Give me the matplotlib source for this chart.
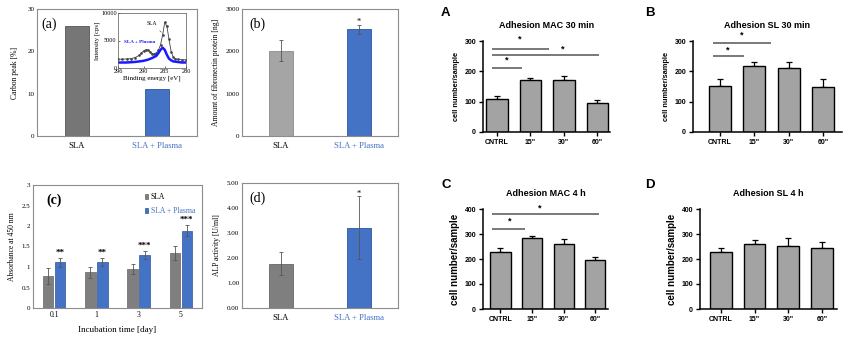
import matplotlib
matplotlib.use("Agg")
import matplotlib.pyplot as plt
import numpy as np

# ---------------- data ----------------
groups2 = ["SLA", "SLA + Plasma"]
carbon_peak = [26, 11]
fibronectin = [2010, 2520]
fibronectin_err = [250, 100]
alp = [1.78, 3.22]
alp_err = [0.45, 1.25]

days = ["0.1", "1", "3", "5"]
abs_sla = [0.78, 0.87, 0.945, 1.34]
abs_sla_err = [0.2, 0.13, 0.12, 0.18]
abs_pl = [1.11, 1.12, 1.29, 1.89]
abs_pl_err = [0.12, 0.1, 0.1, 0.13]
abs_stars = ["**", "**", "***", "***"]

be_sla = [296, 295, 294, 293, 292, 291, 290.5, 290, 289.5, 289, 288.5, 288, 287.5, 287,
          286.5, 286, 285.5, 285, 284.5, 284, 283.5, 283, 282.5, 282, 281, 280]
int_sla = [1600, 1600, 1650, 1700, 1900, 2300, 2700, 3100, 3300, 3300, 3000, 2600, 2500, 2700,
           3200, 4200, 6000, 8300, 7600, 5200, 3000, 2000, 1700, 1600, 1500, 1500]
be_pl = [296, 295, 294, 293, 292, 291, 290, 289, 288, 287, 286.5, 286, 285.5, 285, 284.5,
         284, 283.5, 283, 282, 281, 280]
int_pl = [1000, 1000, 1000, 1050, 1100, 1200, 1300, 1500, 1800, 2200, 2700, 3300, 3700, 3300,
          2400, 1700, 1400, 1200, 1100, 1000, 1000]

cats = ["CNTRL", "15\"", "30\"", "60\""]
mac30 = [109, 170, 172, 97]
mac30_err = [10, 7, 12, 7]
sl30 = [153, 219, 212, 150]
sl30_err = [21, 13, 18, 25]
mac4 = [230, 284, 260, 198]
mac4_err = [16, 10, 20, 12]
sl4 = [230, 261, 253, 244]
sl4_err = [14, 16, 31, 24]

# significance: (x_start, x_end, y) and stars (x, y)
mac30_lines = [(-0.15, 0.75, 211), (-0.15, 1.55, 274), (-0.15, 3.05, 254)]
mac30_stars = [(0.3, 237), (0.69, 307), (1.97, 274)]
sl30_lines = [(-0.2, 0.7, 251), (-0.2, 1.48, 294)]
sl30_stars = [(0.23, 270), (0.64, 320)]
mac4_lines = [(-0.25, 0.77, 321), (-0.25, 3.1, 381)]
mac4_stars = [(0.28, 352), (1.23, 402)]

W, H = 850, 342
fig = plt.figure(figsize=(8.5, 3.42), dpi=100)


def add_ax(x, y, w, h):
    return fig.add_axes([x / W, 1 - (y + h) / H, w / W, h / H])


SERIF = "Liberation Serif"
SANS = "Liberation Sans"
BLUE = "#4472C4"
BLUE_E = "#2F5597"
FRAME = "#8c8c8c"


def excel_style(ax):
    for s in ax.spines.values():
        s.set_color(FRAME)
        s.set_linewidth(0.8)
    ax.tick_params(axis="both", length=0, labelsize=5, pad=2)
    for t in ax.get_yticklabels():
        t.set_fontfamily(SERIF)


def two_xlabels(ax):
    ax.set_xticks([0, 1])
    ax.set_xticklabels(groups2, fontfamily=SERIF, fontsize=6.2)
    ax.get_xticklabels()[1].set_color(BLUE)
    ax.tick_params(axis="x", pad=4)


# ---- (a)
ax = add_ax(37, 9, 160, 127)
ax.bar([0, 1], carbon_peak, width=0.3, color=["#767676", BLUE],
       edgecolor=["#555555", BLUE_E], linewidth=0.6)
ax.set_xlim(-0.5, 1.5)
ax.set_ylim(0, 30)
ax.set_yticks([0, 10, 20, 30])
excel_style(ax)
two_xlabels(ax)
ax.set_ylabel("Carbon peak [%]", fontfamily=SERIF, fontsize=5.5, labelpad=6)
ax.text(0.03, 0.93, "(a)", transform=ax.transAxes, fontfamily=SERIF, fontsize=10, va="top")

ins = add_ax(118, 13, 68, 55)
ins.plot(be_sla, int_sla, color="#444444", lw=0.6, marker="o", ms=0.9)
ins.plot(be_pl, int_pl, color="#1a1aff", lw=1.8)
ins.set_xlim(296, 280)
ins.set_ylim(0, 10000)
ins.set_xticks([296, 290, 285, 280])
ins.set_yticks([0, 5000, 10000])
for s in ins.spines.values():
    s.set_color("#555555")
    s.set_linewidth(0.5)
ins.tick_params(labelsize=4.5, length=1.5, width=0.4, pad=1, direction="in")
for t in ins.get_xticklabels() + ins.get_yticklabels():
    t.set_fontfamily(SERIF)
ins.set_xlabel("Binding energy [eV]", fontfamily=SERIF, fontsize=5, labelpad=0.5)
ins.set_ylabel("Intensity [cps]", fontfamily=SERIF, fontsize=4.8, labelpad=0.5)
ins.annotate("SLA", xy=(285.8, 6500), xytext=(288.0, 7800), fontfamily=SERIF, fontsize=4,
             ha="center", arrowprops=dict(arrowstyle="-", lw=0.4, color="#333333"))
ins.text(294.6, 4700, "SLA + Plasma", color="#1a1aff", fontfamily=SERIF, fontsize=3.7,
         fontweight="bold", va="center")

# ---- (b)
ax = add_ax(242, 9, 156, 127)
ax.bar([0, 1], fibronectin, width=0.3, color=["#A5A5A5", BLUE],
       edgecolor=["#8a8a8a", BLUE_E], linewidth=0.6)
ax.errorbar([0, 1], fibronectin, yerr=fibronectin_err, fmt="none", ecolor="#555555",
            elinewidth=0.6, capsize=1.5, capthick=0.6)
ax.text(1, fibronectin[1] + fibronectin_err[1] + 30, "*", ha="center", fontsize=6,
        fontfamily=SERIF)
ax.set_xlim(-0.5, 1.5)
ax.set_ylim(0, 3000)
ax.set_yticks([0, 1000, 2000, 3000])
excel_style(ax)
two_xlabels(ax)
ax.set_ylabel("Amount of fibronectin protein [ng]", fontfamily=SERIF, fontsize=5.5, labelpad=4)
ax.text(0.05, 0.93, "(b)", transform=ax.transAxes, fontfamily=SERIF, fontsize=10, va="top")

# ---- (c)
ax = add_ax(33, 185, 169, 123)
x = np.arange(len(days))
bw = 0.25
b1 = ax.bar(x - 0.14, abs_sla, width=bw, color="#7F7F7F", edgecolor="#666666", linewidth=0.5,
            label="SLA")
b2 = ax.bar(x + 0.14, abs_pl, width=bw, color=BLUE, edgecolor=BLUE_E, linewidth=0.5,
            label="SLA + Plasma")
ax.errorbar(x - 0.14, abs_sla, yerr=abs_sla_err, fmt="none", ecolor="#555555", elinewidth=0.6,
            capsize=1.3, capthick=0.6)
ax.errorbar(x + 0.14, abs_pl, yerr=abs_pl_err, fmt="none", ecolor="#555555", elinewidth=0.6,
            capsize=1.3, capthick=0.6)
for xi, v, e, s in zip(x, abs_pl, abs_pl_err, abs_stars):
    ax.text(xi + 0.14, v + e + 0.03, s, ha="center", va="bottom", fontsize=6.5,
            fontfamily=SERIF, fontweight="bold")
ax.set_xlim(-0.5, 3.5)
ax.set_ylim(0, 3)
ax.set_yticks([0, 0.5, 1, 1.5, 2, 2.5, 3])
ax.set_yticklabels(["0", "0.5", "1", "1.5", "2", "2.5", "3"])
excel_style(ax)
ax.set_xticks(x)
ax.set_xticklabels(days, fontfamily=SERIF, fontsize=5.5)
ax.set_xlabel("Incubation time [day]", fontfamily=SERIF, fontsize=6.5, labelpad=5)
ax.set_ylabel("Absorbance at 450 nm", fontfamily=SERIF, fontsize=5.5, labelpad=4)
ax.text(0.08, 0.93, "(c)", transform=ax.transAxes, fontfamily=SERIF, fontsize=10,
        fontweight="bold", va="top")
leg = ax.legend(handles=[b1, b2], loc="upper right", bbox_to_anchor=(1.0, 0.99), frameon=False,
                handlelength=0.5, handleheight=0.5, handletextpad=0.3, labelspacing=0.8,
                prop={"family": SERIF, "size": 5.5})
leg.get_texts()[1].set_color(BLUE)

# ---- (d)
ax = add_ax(242, 183, 156, 125)
ax.bar([0, 1], alp, width=0.3, color=["#7F7F7F", BLUE], edgecolor=["#666666", BLUE_E],
       linewidth=0.6)
ax.errorbar([0, 1], alp, yerr=alp_err, fmt="none", ecolor="#555555", elinewidth=0.6,
            capsize=1.5, capthick=0.6)
ax.text(1, alp[1] + alp_err[1] + 0.02, "*", ha="center", fontsize=6, fontfamily=SERIF)
ax.set_xlim(-0.5, 1.5)
ax.set_ylim(0, 5)
ax.set_yticks([0, 1, 2, 3, 4, 5])
ax.set_yticklabels(["0.00", "1.00", "2.00", "3.00", "4.00", "5.00"])
excel_style(ax)
two_xlabels(ax)
ax.set_ylabel("ALP activity [U/ml]", fontfamily=SERIF, fontsize=5.5, labelpad=4)
ax.text(0.05, 0.93, "(d)", transform=ax.transAxes, fontfamily=SERIF, fontsize=10, va="top")


# ---------------- Prism panels ----------------
def prism(rect, vals, errs, ylim, yticks, xlim, title, ylab_size, letter, letter_xy, title_y,
          lines=(), stars=()):
    ax = add_ax(*rect)
    xs = np.arange(len(cats))
    ax.bar(xs, vals, width=0.64, color="#A3A3A3", edgecolor="black", linewidth=1.0, zorder=2)
    ax.errorbar(xs, vals, yerr=[np.zeros(len(vals)), errs], fmt="none", ecolor="black",
                elinewidth=0.9, capsize=2.5, capthick=0.9, zorder=1)
    for x0, x1, y in lines:
        ax.plot([x0, x1], [y, y], color="#555555", lw=1.1, clip_on=False, solid_capstyle="butt")
    for sx, sy in stars:
        ax.text(sx, sy, "*", ha="center", va="center", fontsize=6.5, fontfamily=SANS,
                fontweight="bold", clip_on=False)
    ax.set_xlim(*xlim)
    ax.set_ylim(*ylim)
    ax.set_yticks(yticks)
    ax.set_xticks(xs)
    ax.set_xticklabels(cats)
    for s in ["top", "right"]:
        ax.spines[s].set_visible(False)
    for s in ["left", "bottom"]:
        ax.spines[s].set_linewidth(1.1)
    ax.tick_params(length=3, width=1.0, labelsize=5, pad=2)
    for t in ax.get_xticklabels() + ax.get_yticklabels():
        t.set_fontfamily(SANS)
        t.set_fontweight("bold")
    ax.set_ylabel("cell number/sample", fontfamily=SANS, fontweight="bold", fontsize=ylab_size,
                  labelpad=3)
    cx = (rect[0] + rect[2] / 2) / W
    fig.text(cx, 1 - title_y / H, title, ha="center", va="center", fontfamily=SANS,
             fontweight="bold", fontsize=6.5)
    fig.text(letter_xy[0] / W, 1 - letter_xy[1] / H, letter, ha="left", va="center",
             fontfamily=SANS, fontweight="bold", fontsize=9.5)
    return ax


prism((483, 41, 127, 91), mac30, mac30_err, (0, 300), [0, 100, 200, 300], (-0.42, 3.38),
      "Adhesion MAC 30 min", 5.3, "A", (441, 13), 25, mac30_lines, mac30_stars)
prism((693, 41, 149, 91), sl30, sl30_err, (0, 300), [0, 100, 200, 300], (-0.78, 3.55),
      "Adhesion SL 30 min", 5.3, "B", (645, 13), 25, sl30_lines, sl30_stars)
prism((483, 209, 125, 100), mac4, mac4_err, (0, 400), [0, 100, 200, 300, 400], (-0.55, 3.4),
      "Adhesion MAC 4 h", 7.0, "C", (441, 185), 193, mac4_lines, mac4_stars)
prism((700, 209, 137, 100), sl4, sl4_err, (0, 400), [0, 100, 200, 300, 400], (-0.62, 3.45),
      "Adhesion SL 4 h", 7.0, "D", (645, 185), 193)

fig.savefig("out.png", dpi=100)
